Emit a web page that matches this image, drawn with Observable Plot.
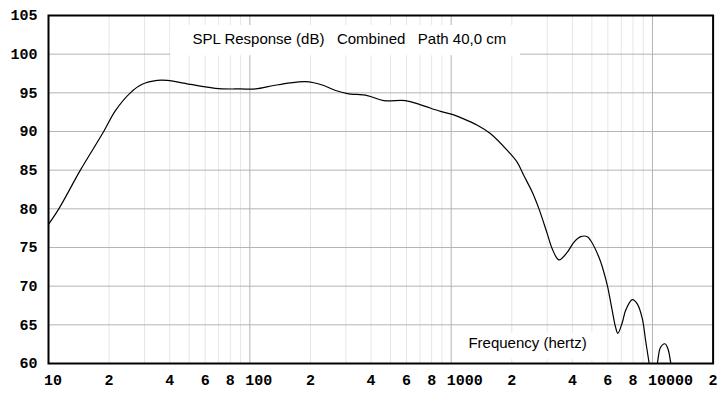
<!DOCTYPE html>
<html>
<head>
<meta charset="utf-8">
<script src="https://cdn.jsdelivr.net/npm/d3@7"></script>
<script src="https://cdn.jsdelivr.net/npm/@observablehq/plot@0.6"></script>
<style>
  html, body { margin: 0; padding: 0; background: #fff; }
  #chart svg { display: block; }
</style>
</head>
<body>
<div id="chart"></div>
<script>
// Frequency (Hz) and SPL (dB)
const freq = [10, 11.25, 14.4, 18.8, 21.5, 25.5, 29.2, 34.7, 38.9, 51.8, 70.2, 90, 106.7, 131.5, 159, 189, 208, 233, 267, 305, 383, 463, 593, 705, 885, 1030, 1114, 1350, 1570, 1900, 2130, 2296, 2530, 2730, 3000, 3180, 3430, 3776, 4075, 4400, 4746, 4930, 5420, 5640, 5965, 6310, 6555, 6730, 7080, 7350, 7940, 8400, 8900, 9240, 9600, 9800, 10300, 10570, 10970, 11530, 11930, 12300, 12600];
const spl  = [78.0, 80.0, 85.0, 90.0, 92.7, 95.0, 96.1, 96.6, 96.6, 96.05, 95.55, 95.5, 95.5, 95.95, 96.3, 96.45, 96.3, 95.95, 95.3, 94.9, 94.65, 94.0, 94.0, 93.45, 92.6, 92.15, 91.8, 90.8, 89.7, 87.55, 86.0, 84.3, 82.15, 80.0, 76.8, 74.8, 73.4, 74.4, 75.7, 76.4, 76.4, 75.9, 73.75, 72.45, 70.1, 66.85, 64.7, 63.9, 65.3, 66.85, 68.25, 67.7, 65.8, 63.0, 60.2, 58.5, 58.5, 60.0, 62.1, 62.55, 61.9, 60.2, 58.5];

const xTicks = [10, 20, 40, 60, 80, 100, 200, 400, 600, 800, 1000, 2000, 4000, 6000, 8000, 10000, 20000];
const xTickLabels = ["10", "2", "4", "6", "8", "100", "2", "4", "6", "8", "1000", "2", "4", "6", "8", "10000", "2"];
const yTicks = [60, 65, 70, 75, 80, 85, 90, 95, 100, 105];
const minorGrid = [20, 30, 40, 50, 60, 70, 80, 90, 200, 300, 400, 500, 600, 700, 800, 900, 2000, 3000, 4000, 5000, 6000, 7000, 8000, 9000];
const majorGrid = [100, 1000, 10000];

const titleText = "SPL Response (dB)\u00a0\u00a0\u00a0Combined\u00a0\u00a0\u00a0Path 40,0 cm";
const xLabelText = "Frequency (hertz)";

// decorative label backgrounds (in data units)
const titleBox = [{x1: 40.4, x2: 2213, y1: 99.8, y2: 103.7}];
const xLabelBox = [{x1: 1113, x2: 5520, y1: 60.5, y2: 63.9}];
const titlePos = [{x: 312, y: 101.9}];
const xLabelPos = [{x: 2396, y: 62.6}];

const data = freq.map((f, i) => ({f, s: spl[i]}));

const tickFont = "'Liberation Mono', 'Courier New', monospace";
const textFont = "'Liberation Sans', Arial, sans-serif";

const chart = Plot.plot({
  width: 721,
  height: 393,
  marginLeft: 48,
  marginRight: 8.4,
  marginTop: 15,
  marginBottom: 30,
  style: {background: "#fff", overflow: "visible"},
  x: {type: "log", domain: [10, 20000], axis: null},
  y: {domain: [60, 105], axis: null},
  marks: [
    Plot.ruleX(minorGrid, {stroke: "#e6e6e6", strokeWidth: 1}),
    Plot.ruleX(majorGrid, {stroke: "#b4b4b4", strokeWidth: 1}),
    Plot.ruleY(yTicks, {stroke: "#b4b4b4", strokeWidth: 1}),
    Plot.rect(titleBox, {x1: "x1", x2: "x2", y1: "y1", y2: "y2", fill: "#fff"}),
    Plot.rect(xLabelBox, {x1: "x1", x2: "x2", y1: "y1", y2: "y2", fill: "#fff"}),
    Plot.line(data, {x: "f", y: "s", stroke: "#000", strokeWidth: 1.2, curve: "catmull-rom", clip: true}),
    Plot.frame({stroke: "#000", strokeWidth: 2}),
    Plot.text(xTicks, {
      x: d => d, text: (d, i) => xTickLabels[i], frameAnchor: "bottom", lineAnchor: "top", dy: 11,
      textAnchor: "start", dx: -4.5, fontSize: 15, fontWeight: "bold", fontFamily: tickFont, fill: "#000"
    }),
    Plot.text(yTicks, {
      y: d => d, text: d => String(d), frameAnchor: "left", textAnchor: "end", lineAnchor: "middle", dx: -11,
      fontSize: 15, fontWeight: "bold", fontFamily: tickFont, fill: "#000"
    }),
    Plot.text(titlePos, {x: "x", y: "y", text: () => titleText, fontSize: 15, fontFamily: textFont, fill: "#000", textAnchor: "middle", lineAnchor: "middle"}),
    Plot.text(xLabelPos, {x: "x", y: "y", text: () => xLabelText, fontSize: 15, fontFamily: textFont, fill: "#000", textAnchor: "middle", lineAnchor: "middle"})
  ]
});
document.getElementById("chart").appendChild(chart);
</script>
</body>
</html>
